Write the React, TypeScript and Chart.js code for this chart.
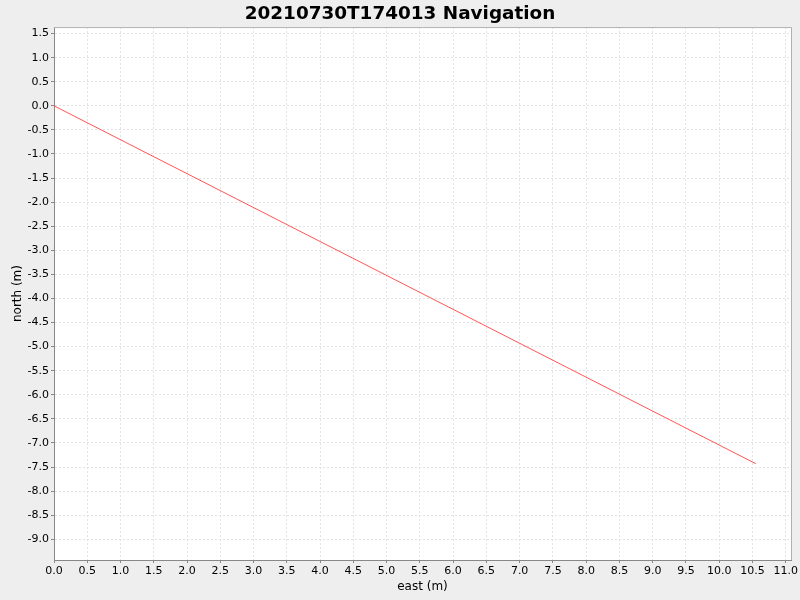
import { useEffect, useRef } from "react";
import { Chart, registerables } from "chart.js";

Chart.register(...registerables);

const chartTitle = "20210730T174013 Navigation";
const xTitle = "east (m)";
const yTitle = "north (m)";

// track points (east, north)
const eastValues = [0.0, 10.55];
const northValues = [0.0, -7.43];

const xTickValues = [
  0.0, 0.5, 1.0, 1.5, 2.0, 2.5, 3.0, 3.5, 4.0, 4.5, 5.0, 5.5, 6.0, 6.5, 7.0,
  7.5, 8.0, 8.5, 9.0, 9.5, 10.0, 10.5, 11.0,
];
const yTickValues = [
  1.5, 1.0, 0.5, 0.0, -0.5, -1.0, -1.5, -2.0, -2.5, -3.0, -3.5, -4.0, -4.5,
  -5.0, -5.5, -6.0, -6.5, -7.0, -7.5, -8.0, -8.5, -9.0,
];

const FONT = "'DejaVu Sans', sans-serif";

const plotBackground = {
  id: "plotBackground",
  beforeDraw(chart: any) {
    const { ctx, chartArea } = chart;
    ctx.save();
    ctx.fillStyle = "#ffffff";
    ctx.fillRect(chartArea.left, chartArea.top, chartArea.width, chartArea.height);
    ctx.restore();
  },
  afterDraw(chart: any) {
    const { ctx, chartArea } = chart;
    ctx.save();
    ctx.strokeStyle = "#b0b0b0";
    ctx.lineWidth = 1;
    ctx.beginPath();
    ctx.moveTo(chartArea.left, chartArea.top + 0.5);
    ctx.lineTo(chartArea.right + 0.5, chartArea.top + 0.5);
    ctx.lineTo(chartArea.right + 0.5, chartArea.bottom);
    ctx.stroke();
    ctx.restore();
  },
};

export default function App() {
  const canvasRef = useRef<HTMLCanvasElement | null>(null);

  useEffect(() => {
    document.body.style.margin = "0";
    document.body.style.background = "#eeeeee";
    if (!canvasRef.current) return;

    const points = eastValues.map((x, i) => ({ x, y: northValues[i] }));

    const chart = new Chart(canvasRef.current, {
      type: "scatter",
      data: {
        datasets: [
          {
            label: "track",
            data: points,
            showLine: true,
            borderColor: "#ff5555",
            borderWidth: 1,
            pointRadius: 0,
            fill: false,
          },
        ],
      },
      options: {
        animation: false,
        responsive: true,
        maintainAspectRatio: false,
        layout: { padding: { right: 8, left: 8, bottom: 0, top: 0 } },
        plugins: {
          legend: { display: false },
          tooltip: { enabled: false },
          title: {
            display: true,
            text: chartTitle,
            color: "#000000",
            font: { family: FONT, size: 18.4, weight: "bold" },
            padding: { top: 3, bottom: 2 },
          },
        },
        scales: {
          x: {
            type: "linear",
            min: 0,
            max: 11.08,
            afterBuildTicks: (scale: any) => {
              scale.ticks = xTickValues.map((v) => ({ value: v }));
            },
            afterFit: (scale: any) => {
              scale.height = 40;
            },
            ticks: {
              color: "#000000",
              font: { family: FONT, size: 11 },
              padding: 2,
              maxRotation: 0,
              autoSkip: false,
              callback: (v: any) => Number(v).toFixed(1),
            },
            grid: {
              color: "#e2e2e2",
              tickColor: "#888888",
              tickLength: 3,
              lineWidth: 1,
            },
            border: { color: "#888888", width: 1, dash: [2, 2] },
            title: {
              display: true,
              text: xTitle,
              color: "#000000",
              font: { family: FONT, size: 12 },
              padding: { top: 6, bottom: 6 },
            },
          },
          y: {
            type: "linear",
            min: -9.43,
            max: 1.635,
            afterBuildTicks: (scale: any) => {
              scale.ticks = yTickValues.map((v) => ({ value: v }));
            },
            afterFit: (scale: any) => {
              scale.width = 46;
            },
            ticks: {
              color: "#000000",
              font: { family: FONT, size: 11 },
              padding: 2,
              autoSkip: false,
              callback: (v: any) => Number(v).toFixed(1),
            },
            grid: {
              color: "#e2e2e2",
              tickColor: "#888888",
              tickLength: 3,
              lineWidth: 1,
            },
            border: { color: "#888888", width: 1, dash: [2, 2] },
            title: {
              display: true,
              text: yTitle,
              color: "#000000",
              font: { family: FONT, size: 12 },
              padding: { top: 3, bottom: 3 },
            },
          },
        },
      },
      plugins: [plotBackground],
    });

    return () => {
      chart.destroy();
    };
  }, []);

  return (
    <div style={{ width: 800, height: 600, background: "#eeeeee" }}>
      <canvas ref={canvasRef} />
    </div>
  );
}
